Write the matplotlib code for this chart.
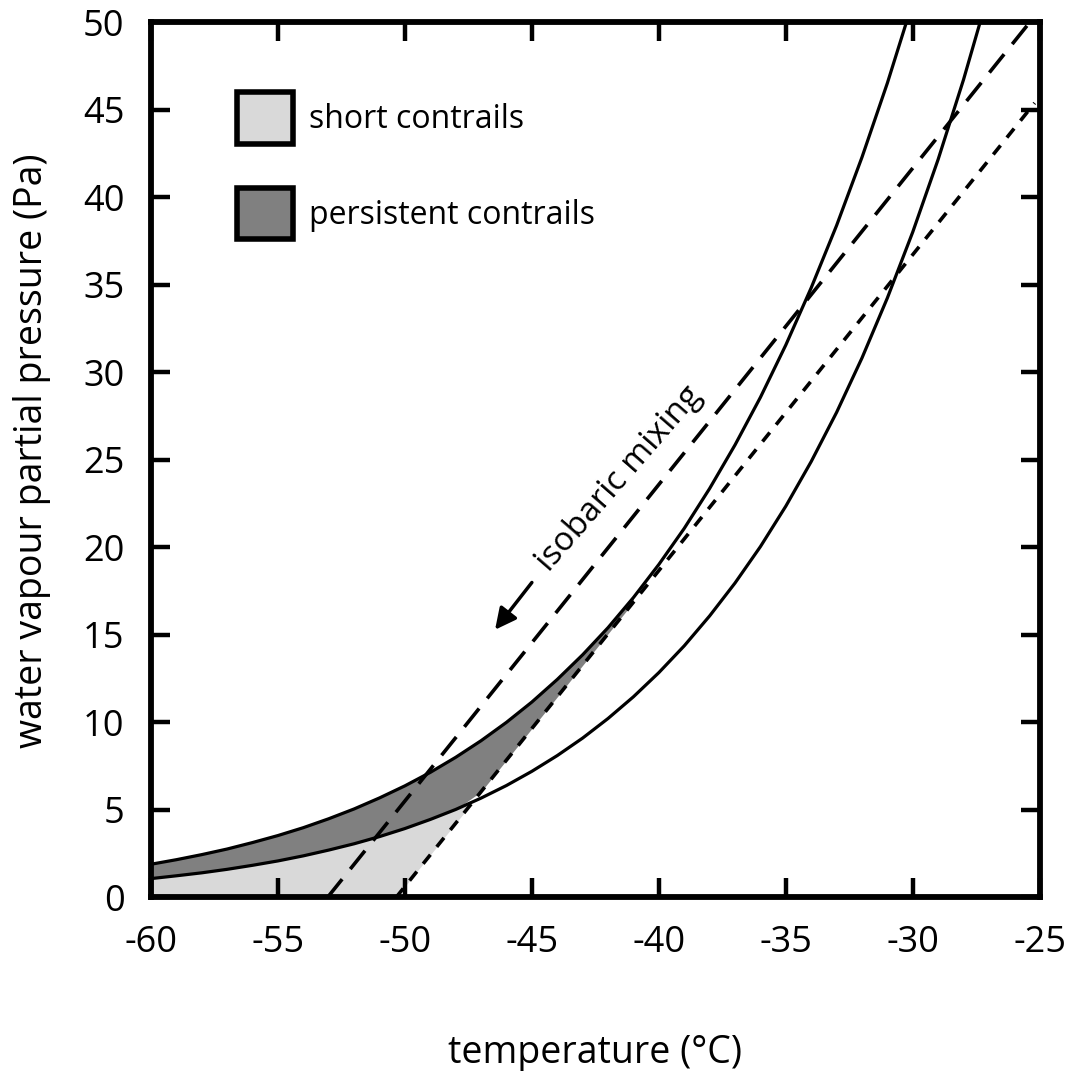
import numpy as np
import matplotlib.pyplot as plt
from matplotlib.patches import Patch

plt.rcParams['font.family'] = ['Open Sans', 'DejaVu Sans']
plt.rcParams['axes.unicode_minus'] = False

# temperature grid (deg C) and saturation vapour pressures (Pa)
temp = [-60, -59, -58, -57, -56, -55, -54, -53, -52, -51, -50, -49, -48, -47, -46, -45, -44,
        -43, -42, -41, -40, -39, -38, -37, -36, -35, -34, -33, -32, -31, -30, -29, -28, -27]
p_water = [1.90, 2.16, 2.45, 2.77, 3.14, 3.54, 3.99, 4.50, 5.06, 5.69, 6.38, 7.15, 8.01, 8.96,
           10.01, 11.17, 12.46, 13.87, 15.42, 17.14, 19.03, 21.09, 23.37, 25.86, 28.58, 31.57,
           34.84, 38.40, 42.30, 46.54, 51.17, 56.2, 61.7, 67.6]
p_ice = [1.08, 1.24, 1.41, 1.61, 1.84, 2.09, 2.38, 2.71, 3.07, 3.48, 3.94, 4.46, 5.03, 5.68,
         6.40, 7.21, 8.11, 9.11, 10.23, 11.47, 12.85, 14.38, 16.09, 17.97, 20.05, 22.36, 24.91,
         27.72, 30.83, 34.26, 38.03, 42.18, 46.74, 51.76]

# isobaric mixing lines (end points)
mix_T = [-53.05, -25.4]
mix_p = [0.0, 50.0]
crit_T = [-50.35, -25.2]
crit_p = [0.0, 45.4]

xticks = [-60, -55, -50, -45, -40, -35, -30, -25]
yticks = [0, 5, 10, 15, 20, 25, 30, 35, 40, 45, 50]

light = '#d9d9d9'
dark = '#808080'

fig = plt.figure(figsize=(10.73, 10.71), dpi=100)
ax = fig.add_axes([0.1407, 0.1620, 0.8283, 0.8170])

# shaded regions, bounded by the curves and the critical mixing line
T = np.array(temp, float)
grid = np.union1d(T, [crit_T[0]])
ice = np.exp(np.interp(grid, T, np.log(p_ice)))
water = np.exp(np.interp(grid, T, np.log(p_water)))
slope = (crit_p[1] - crit_p[0]) / (crit_T[1] - crit_T[0])
crit = crit_p[0] + slope * (grid - crit_T[0])
floor = np.maximum(crit, 0)
t_tan = grid[np.argmin(water - crit)]
left_of_tan = grid <= t_tan

ax.fill_between(grid, floor, ice, where=(ice >= floor) & left_of_tan,
                interpolate=True, color=light, lw=0, zorder=1)
lower = np.maximum(ice, floor)
ax.fill_between(grid, lower, water, where=(water >= lower) & left_of_tan,
                interpolate=True, color=dark, lw=0, zorder=1)

# curves and mixing lines
ax.plot(temp, p_water, color='black', lw=2.3, zorder=3)
ax.plot(temp, p_ice, color='black', lw=2.3, zorder=3)
ax.plot(mix_T, mix_p, color='black', lw=2.6, linestyle=(0, (6.5, 3.6)), zorder=3)
ax.plot(crit_T, crit_p, color='black', lw=2.6, linestyle=(0, (3.2, 2.8)), zorder=3)

ax.annotate('', xy=(-46.45, 15.3), xytext=(-45.0, 18.0),
            arrowprops=dict(arrowstyle='-|>', color='black', lw=2.5,
                            mutation_scale=32, shrinkA=0, shrinkB=0))
ax.text(-41.55, 23.9, 'isobaric mixing', rotation=49, rotation_mode='anchor',
        ha='center', va='center', fontsize=24)

ax.set_xlim(-60, -25)
ax.set_ylim(0, 50)
ax.set_xticks(xticks)
ax.set_yticks(yticks)
ax.tick_params(direction='in', length=14, width=3.2, top=True, right=True,
               labelsize=26)
ax.tick_params(axis='y', pad=19)
ax.tick_params(axis='x', pad=20)
for s in ax.spines.values():
    s.set_linewidth(4.2)

fig.text(0.5 * (151 + 1040) / 1073, 1 - 1053 / 1071, 'temperature (°C)',
         ha='center', va='center', fontsize=27)
fig.text(32 / 1073, 1 - 451 / 1071, 'water vapour partial pressure (Pa)',
         rotation=90, ha='center', va='center', fontsize=27)

handles = [Patch(facecolor=light, edgecolor='black', lw=4, label='short contrails'),
           Patch(facecolor=dark, edgecolor='black', lw=4, label='persistent contrails')]
ax.legend(handles=handles, loc='upper left', bbox_to_anchor=(0.097, 0.92),
          frameon=False, fontsize=23, handlelength=1.75, handleheight=2.08,
          labelspacing=1.4, handletextpad=0.5, borderpad=0, borderaxespad=0)

fig.savefig('out.png', dpi=100)
